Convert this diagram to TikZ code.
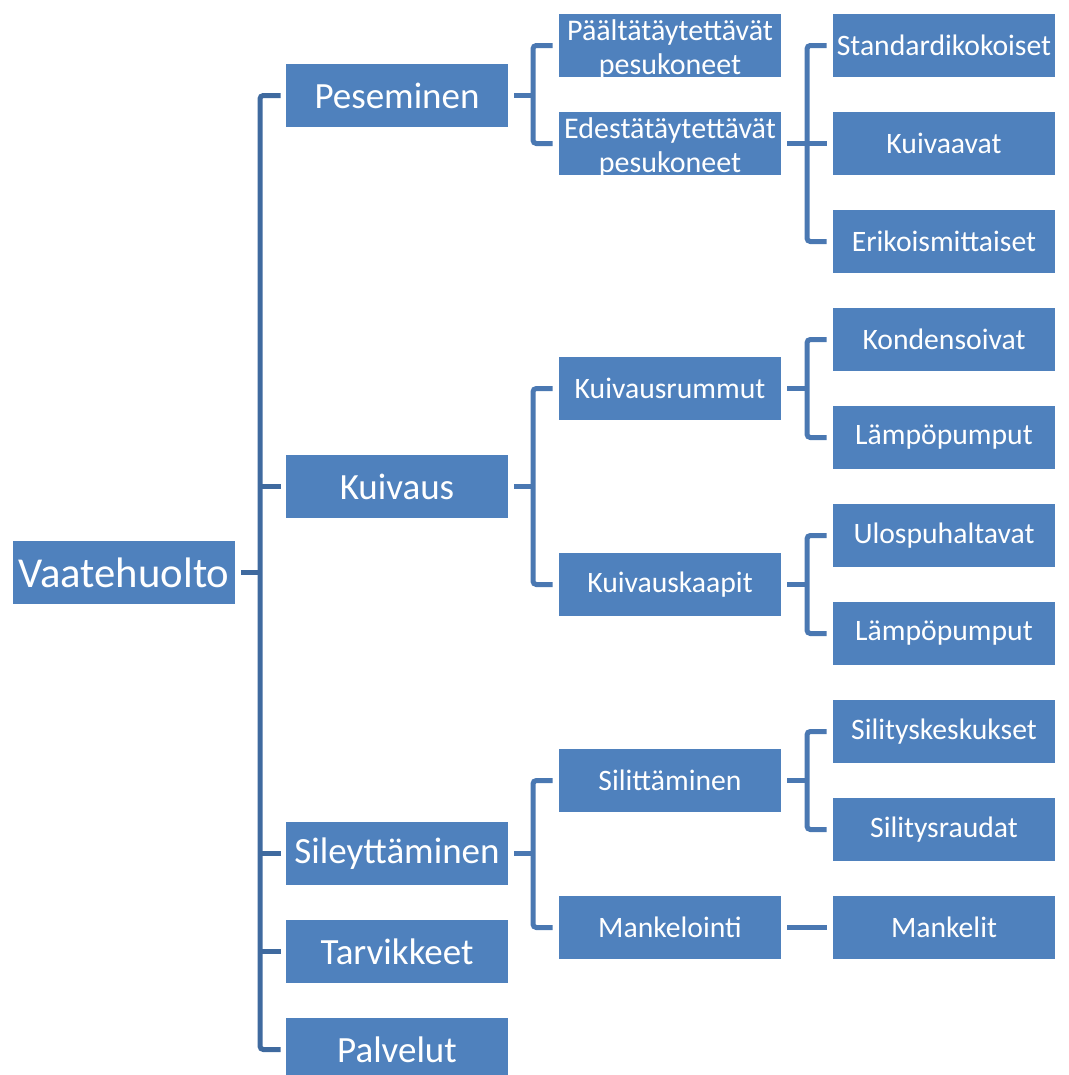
\documentclass[tikz,border=0pt]{standalone}
\usepackage{fontspec}
\setmainfont{Carlito}
\usetikzlibrary{calc}
\definecolor{boxblue}{HTML}{4F81BD}
\definecolor{rootline}{HTML}{3F6A9F}
\definecolor{subline}{HTML}{4A78B2}
\tikzset{
  box/.style={fill=boxblue, draw=none, text=white, inner sep=0pt,
    minimum width=166.5pt, minimum height=47.25pt, align=center},
  rootbox/.style={box, font=\fontsize{32pt}{36pt}\selectfont},
  lone/.style={box, font=\fontsize{27.75pt}{32pt}\selectfont},
  ltwo/.style={box, font=\fontsize{22.25pt}{25.5pt}\selectfont},
  ltwotext/.style={text=white, inner sep=0pt, align=center, font=\fontsize{22.5pt}{25.5pt}\selectfont},
  lthree/.style={box, font=\fontsize{22.25pt}{25.5pt}\selectfont},
  connA/.style={draw=rootline, line width=3.75pt, rounded corners=2.5pt},
  connB/.style={draw=subline, line width=3.75pt, rounded corners=2.5pt},
}
\begin{document}
\begin{tikzpicture}[x=0.75pt, y=-0.75pt]
\useasboundingbox (0,0) rectangle (1068,1075);
% root
\node[rootbox] (root) at (124,572.5) {Vaatehuolto};
% level 1
\node[lone] (pes) at (397,95.5) {Peseminen};
\node[lone] (kui) at (397,486.5) {Kuivaus};
\node[lone] (sil) at (397,853.5) {Sileyttäminen};
\node[lone] (tar) at (397,951.5) {Tarvikkeet};
\node[lone] (pal) at (397,1049.5) {Palvelut};
% level 2
\node[box] (paal) at (670,45.5) {};
\node[ltwotext] (paaltext) at ($(paal.center)+(0,4)$) {Päältätäytettävät\\pesukoneet};
\node[box] (edes) at (670,143.5) {};
\node[ltwotext] (edestext) at ($(edes.center)+(0,4)$) {Edestätäytettävät\\pesukoneet};
\node[ltwo] (krum) at (670,388.5) {Kuivausrummut};
\node[ltwo] (kkaap) at (670,584.5) {Kuivauskaapit};
\node[ltwo] (silit) at (670,780.5) {Silittäminen};
\node[ltwo] (mank) at (670,927.5) {Mankelointi};
% level 3
\node[lthree] (std) at (944,45.5) {Standardikokoiset};
\node[lthree] (kva) at (944,143.5) {Kuivaavat};
\node[lthree] (eri) at (944,241.5) {Erikoismittaiset};
\node[lthree] (kon) at (944,339.5) {Kondensoivat};
\node[lthree] (lpa) at (944,437.5) {Lämpöpumput};
\node[lthree] (ulo) at (944,535.5) {Ulospuhaltavat};
\node[lthree] (lpb) at (944,633.5) {Lämpöpumput};
\node[lthree] (slk) at (944,731.5) {Silityskeskukset};
\node[lthree] (slr) at (944,829.5) {Silitysraudat};
\node[lthree] (mkl) at (944,927.5) {Mankelit};
% bus coordinates
\coordinate (busA) at (260,0);
\coordinate (busB) at (533,0);
\coordinate (busC) at (807,0);
% root connectors
\draw[connA] ($(root.east)+(6,0)$) -- (root.east -| busA);
\draw[connA] ($(pes.west)+(-5,0)$) -- (pes.west -| busA) -- (pal.west -| busA) -- ($(pal.west)+(-5,0)$);
\draw[connA] ($(kui.west)+(-5,0)$) -- (kui.west -| busA);
\draw[connA] ($(sil.west)+(-5,0)$) -- (sil.west -| busA);
\draw[connA] ($(tar.west)+(-5,0)$) -- (tar.west -| busA);
% level 1 -> level 2
\draw[connB] ($(pes.east)+(6,0)$) -- (pes.east -| busB);
\draw[connB] ($(paal.west)+(-6,0)$) -- (paal.west -| busB) -- (edes.west -| busB) -- ($(edes.west)+(-6,0)$);
\draw[connB] ($(kui.east)+(6,0)$) -- (kui.east -| busB);
\draw[connB] ($(krum.west)+(-6,0)$) -- (krum.west -| busB) -- (kkaap.west -| busB) -- ($(kkaap.west)+(-6,0)$);
\draw[connB] ($(sil.east)+(6,0)$) -- (sil.east -| busB);
\draw[connB] ($(silit.west)+(-6,0)$) -- (silit.west -| busB) -- (mank.west -| busB) -- ($(mank.west)+(-6,0)$);
% level 2 -> level 3
\draw[connB] ($(edes.east)+(6,0)$) -- (edes.east -| busC);
\draw[connB] ($(std.west)+(-6,0)$) -- (std.west -| busC) -- (eri.west -| busC) -- ($(eri.west)+(-6,0)$);
\draw[connB] ($(kva.west)+(-6,0)$) -- (kva.west -| busC);
\draw[connB] ($(krum.east)+(6,0)$) -- (krum.east -| busC);
\draw[connB] ($(kon.west)+(-6,0)$) -- (kon.west -| busC) -- (lpa.west -| busC) -- ($(lpa.west)+(-6,0)$);
\draw[connB] ($(kkaap.east)+(6,0)$) -- (kkaap.east -| busC);
\draw[connB] ($(ulo.west)+(-6,0)$) -- (ulo.west -| busC) -- (lpb.west -| busC) -- ($(lpb.west)+(-6,0)$);
\draw[connB] ($(silit.east)+(6,0)$) -- (silit.east -| busC);
\draw[connB] ($(slk.west)+(-6,0)$) -- (slk.west -| busC) -- (slr.west -| busC) -- ($(slr.west)+(-6,0)$);
\draw[connB] ($(mank.east)+(6,0)$) -- ($(mkl.west)+(-6,0)$);
\end{tikzpicture}
\end{document}
